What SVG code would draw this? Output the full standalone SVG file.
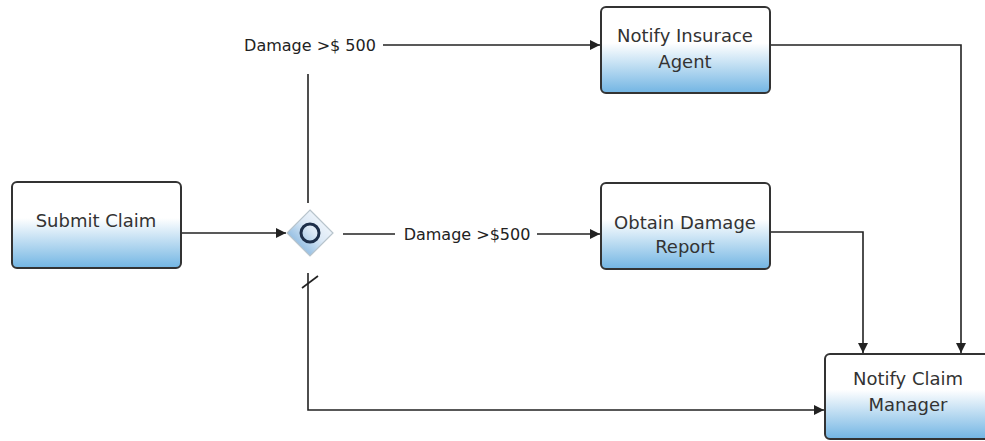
<svg xmlns="http://www.w3.org/2000/svg" width="985" height="441" viewBox="0 0 985 441">
<defs>
<linearGradient id="boxg" x1="0" y1="0" x2="0" y2="1">
<stop offset="0" stop-color="#ffffff"/>
<stop offset="0.42" stop-color="#ffffff"/>
<stop offset="1" stop-color="#72b5e3"/>
</linearGradient>
<linearGradient id="gwg" x1="0" y1="1" x2="1" y2="0">
<stop offset="0" stop-color="#5f9fd4"/>
<stop offset="0.55" stop-color="#dce9f6"/>
<stop offset="1" stop-color="#ffffff"/>
</linearGradient>
<marker id="arr" viewBox="0 0 10 10" refX="10" refY="5" markerWidth="10" markerHeight="10" markerUnits="userSpaceOnUse" orient="auto">
<path d="M0,0 L10,5 L0,10 Z" fill="#222"/>
</marker>
</defs>
<style>
.box{fill:url(#boxg);stroke:#333;stroke-width:2}
.lbl{font-family:"DejaVu Sans",Verdana,sans-serif;font-size:18px;fill:#333;text-anchor:middle}
.elbl{font-family:"DejaVu Sans",Verdana,sans-serif;font-size:16px;fill:#222;text-anchor:middle}
.c{fill:none;stroke:#222;stroke-width:1.6}
</style>
<rect width="985" height="441" fill="#ffffff"/>
<g id="connectors">
<path class="c" d="M181,233 H286" marker-end="url(#arr)"/>
<path class="c" d="M308,203 V74"/>
<path class="c" d="M383,45 H600" marker-end="url(#arr)"/>
<path class="c" d="M343,234 H395"/>
<path class="c" d="M537,234 H600" marker-end="url(#arr)"/>
<path class="c" d="M308,273 V410 H824" marker-end="url(#arr)"/>
<path class="c" d="M302,288 L318,276"/>
<path class="c" d="M770,45 H961 V353" marker-end="url(#arr)"/>
<path class="c" d="M770,232 H863 V353" marker-end="url(#arr)"/>
<text class="elbl" x="310" y="51">Damage &gt;$ 500</text>
<text class="elbl" x="467" y="240">Damage &gt;$500</text>
</g>
<g id="submit-claim">
<rect class="box" x="12" y="182" width="169" height="86" rx="5"/>
<text class="lbl" x="96" y="227">Submit Claim</text>
</g>
<g id="gateway">
<path d="M310,210 L333,233 L310,256 L287,233 Z" fill="url(#gwg)" stroke="#b8c4cc" stroke-width="1.2"/>
<circle cx="310" cy="233" r="9" fill="none" stroke="#1d2f4a" stroke-width="3"/>
</g>
<g id="notify-insurance-agent">
<rect class="box" x="601" y="7" width="169" height="86" rx="5"/>
<text class="lbl" x="685" y="42">Notify Insurace</text>
<text class="lbl" x="685" y="68">Agent</text>
</g>
<g id="obtain-damage-report">
<rect class="box" x="601" y="183" width="169" height="86" rx="5"/>
<text class="lbl" x="685" y="229">Obtain Damage</text>
<text class="lbl" x="685" y="253">Report</text>
</g>
<g id="notify-claim-manager">
<rect class="box" x="825" y="354" width="169" height="85" rx="5"/>
<text class="lbl" x="908" y="385">Notify Claim</text>
<text class="lbl" x="908" y="411">Manager</text>
</g>
</svg>
